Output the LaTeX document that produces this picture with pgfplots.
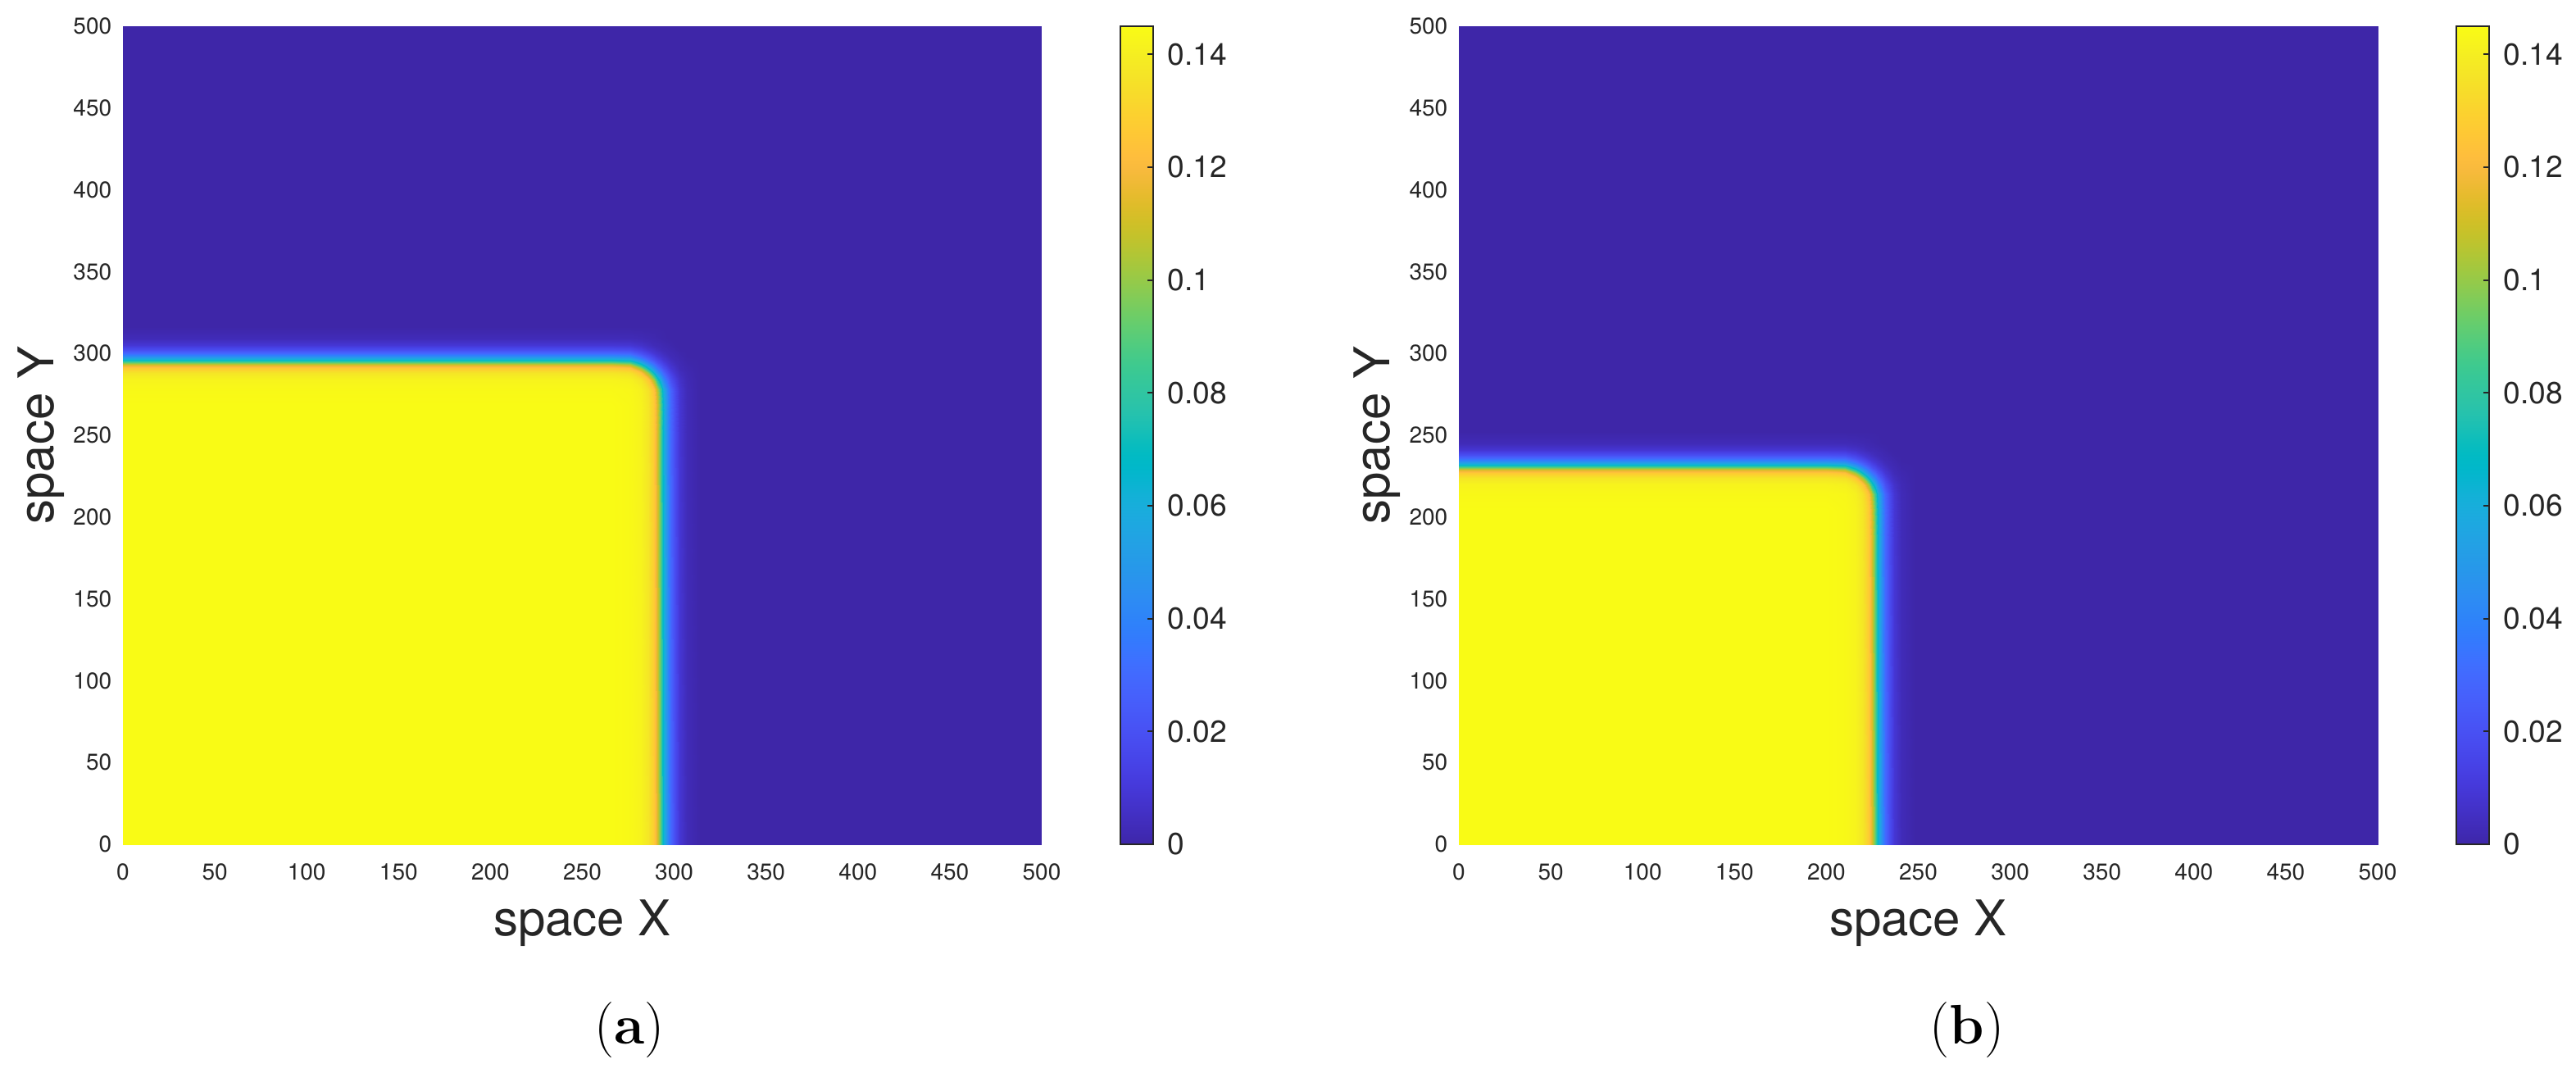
\documentclass[border=0pt]{standalone}
\usepackage{fontspec}
\usepackage{pgfplots}
\pgfplotsset{compat=1.18}
\usepackage{pgfplotstable}
\newfontfamily\hel{TeX Gyre Heros}
\definecolor{mgray}{rgb}{0.15,0.15,0.15}

\pgfplotsset{
  colormap={parula}{
rgb=(0.2422,0.1504,0.6603) rgb=(0.2504,0.1650,0.7076) rgb=(0.2578,0.1818,0.7511) rgb=(0.2647,0.1978,0.7952)
rgb=(0.2706,0.2147,0.8364) rgb=(0.2751,0.2342,0.8710) rgb=(0.2783,0.2559,0.8991) rgb=(0.2803,0.2782,0.9221)
rgb=(0.2813,0.3006,0.9414) rgb=(0.2810,0.3228,0.9579) rgb=(0.2795,0.3447,0.9717) rgb=(0.2760,0.3667,0.9829)
rgb=(0.2699,0.3892,0.9906) rgb=(0.2602,0.4123,0.9952) rgb=(0.2440,0.4358,0.9988) rgb=(0.2206,0.4603,0.9973)
rgb=(0.1963,0.4847,0.9892) rgb=(0.1834,0.5074,0.9798) rgb=(0.1786,0.5289,0.9682) rgb=(0.1764,0.5499,0.9520)
rgb=(0.1687,0.5703,0.9359) rgb=(0.1540,0.5902,0.9218) rgb=(0.1460,0.6091,0.9079) rgb=(0.1380,0.6276,0.8973)
rgb=(0.1248,0.6459,0.8883) rgb=(0.1113,0.6635,0.8763) rgb=(0.0952,0.6798,0.8598) rgb=(0.0689,0.6948,0.8394)
rgb=(0.0297,0.7082,0.8163) rgb=(0.0036,0.7203,0.7917) rgb=(0.0067,0.7312,0.7660) rgb=(0.0433,0.7411,0.7394)
rgb=(0.0964,0.7500,0.7120) rgb=(0.1408,0.7584,0.6842) rgb=(0.1717,0.7670,0.6554) rgb=(0.1938,0.7758,0.6251)
rgb=(0.2161,0.7843,0.5923) rgb=(0.2470,0.7918,0.5567) rgb=(0.2906,0.7973,0.5188) rgb=(0.3406,0.8008,0.4789)
rgb=(0.3909,0.8029,0.4354) rgb=(0.4456,0.8024,0.3909) rgb=(0.5044,0.7993,0.3480) rgb=(0.5616,0.7942,0.3045)
rgb=(0.6174,0.7876,0.2612) rgb=(0.6720,0.7793,0.2227) rgb=(0.7242,0.7698,0.1910) rgb=(0.7738,0.7598,0.1646)
rgb=(0.8203,0.7498,0.1535) rgb=(0.8634,0.7406,0.1596) rgb=(0.9035,0.7330,0.1774) rgb=(0.9393,0.7288,0.2100)
rgb=(0.9728,0.7298,0.2394) rgb=(0.9956,0.7434,0.2371) rgb=(0.9970,0.7659,0.2199) rgb=(0.9952,0.7893,0.2028)
rgb=(0.9892,0.8136,0.1885) rgb=(0.9786,0.8386,0.1766) rgb=(0.9676,0.8639,0.1643) rgb=(0.9610,0.8890,0.1537)
rgb=(0.9597,0.9135,0.1423) rgb=(0.9628,0.9373,0.1265) rgb=(0.9691,0.9606,0.1060) rgb=(0.9769,0.9839,0.0805)
  },
  myaxis/.style={
    scale only axis, width=280.25pt, height=249.5pt,
    anchor=south west,
    colormap name=parula,
    xmin=0, xmax=500, ymin=0, ymax=500,
    xtick={0,50,...,500}, ytick={0,50,...,500},
    axis line style={draw=none},
    major tick length=0pt,
    tick style={draw=none},
    /pgf/number format/assume math mode=true,
    tick label style={font=\hel\fontsize{7}{8}\selectfont, text=mgray},
    xticklabel style={anchor=north, inner sep=0pt, yshift=-5.75pt},
    yticklabel style={anchor=east, inner sep=0pt, xshift=-3.25pt},
    xlabel={space X}, ylabel={space Y},
    label style={font=\hel\fontsize{15}{18}\selectfont, text=mgray},
    xlabel style={at={(axis description cs:0.5,-0.1122)}, anchor=base},
    ylabel style={at={(axis description cs:-0.0758,0.5)}, anchor=base},
    point meta min=0, point meta max=0.145,
    colorbar,
    colorbar style={
      at={(parent axis.north east)}, anchor=north west, xshift=15.5pt,
      width=10pt,
      ytick={0,0.02,0.04,0.06,0.08,0.1,0.12,0.14},
      yticklabels={0,0.02,0.04,0.06,0.08,0.1,0.12,0.14},
      scaled y ticks=false,
      yticklabel pos=right,
      ytick pos=right,
      tick align=inside,
      major tick length=1.8pt,
      tick style={draw=mgray, line width=0.5pt},
      axis line style={draw=mgray, line width=0.5pt},
      yticklabel style={font=\hel\fontsize{9.3}{11}\selectfont, text=mgray, anchor=west, inner sep=0pt, xshift=4.25pt},
    },
  },
}

\pgfplotstableread{
xa ya xb yb z
0 0 0 0 0.145
249 0 183 0 0.145
266 0 200 0 0.145
276 0 210 0 0.144
282 0 216 0 0.142
286 0 220 0 0.137
289 0 223 0 0.127
291 0 225 0 0.112
292.5 0 226.5 0 0.090
294 0 228 0 0.066
296 0 230 0 0.045
298 0 232 0 0.030
300 0 234 0 0.019
303 0 237 0 0.009
307 0 241 0 0.003
314 0 248 0 0
500 0 500 0 0
0 251 0 187 0.145
249 251 183 187 0.145
266 251 200 187 0.145
276 251 210 187 0.144
282 251 216 187 0.142
286 251 220 187 0.137
289 251 223 187 0.127
291 251 225 187 0.112
292.5 251 226.5 187 0.090
294 251 228 187 0.066
296 251 230 187 0.045
298 251 232 187 0.030
300 251 234 187 0.019
303 251 237 187 0.009
307 251 241 187 0.003
314 251 248 187 0
500 251 500 187 0
0 268 0 204 0.145
249 268 183 204 0.145
266 268 200 204 0.145
276 268 210 204 0.144
282 268 216 204 0.142
286 268 220 204 0.137
289 268 223 204 0.127
291 268 225 204 0.112
292.5 268 226.5 204 0.090
294 268 228 204 0.066
296 268 230 204 0.045
298 268 232 204 0.030
300 268 234 204 0.019
303 268 237 204 0.009
307 268 241 204 0.003
314 268 248 204 0
500 268 500 204 0
0 278 0 214 0.144
249 278 183 214 0.144
266 278 200 214 0.144
276 278 210 214 0.1434
282 278 216 214 0.1410
286 278 220 214 0.1351
289 278 223 214 0.1235
291 278 225 214 0.1058
292.5 278 226.5 214 0.0838
294 278 228 214 0.0622
296 278 230 214 0.0425
298 278 232 214 0.0283
300 278 234 214 0.0181
303 278 237 214 0.0086
307 278 241 214 0.0029
314 278 248 214 0
500 278 500 214 0
0 284 0 220 0.142
249 284 183 220 0.142
266 284 200 220 0.142
276 284 210 220 0.1410
282 284 216 220 0.1365
286 284 220 220 0.1255
289 284 223 220 0.1014
291 284 225 220 0.0745
292.5 284 226.5 220 0.0575
294 284 228 220 0.0437
296 284 230 220 0.0300
298 284 232 220 0.0198
300 284 234 220 0.0132
303 284 237 220 0.0066
307 284 241 220 0.0024
314 284 248 220 0
500 284 500 220 0
0 288 0 224 0.137
249 288 183 224 0.137
266 288 200 224 0.137
276 288 210 224 0.1351
282 288 216 224 0.1255
286 288 220 224 0.1003
289 288 223 224 0.0658
291 288 225 224 0.0492
292.5 288 226.5 224 0.0389
294 288 228 224 0.0296
296 288 230 224 0.0202
298 288 232 224 0.0139
300 288 234 224 0.0086
303 288 237 224 0.0045
307 288 241 224 0.0018
314 288 248 224 0
500 288 500 224 0
0 291 0 227 0.127
249 291 183 227 0.127
266 291 200 227 0.127
276 291 210 227 0.1235
282 291 216 227 0.1014
286 291 220 227 0.0658
289 291 223 227 0.0447
291 291 225 227 0.0338
292.5 291 226.5 227 0.0265
294 291 228 227 0.0201
296 291 230 227 0.0143
298 291 232 227 0.0089
300 291 234 227 0.0064
303 291 237 227 0.0028
307 291 241 227 0.0013
314 291 248 227 0
500 291 500 227 0
0 293 0 229 0.112
249 293 183 229 0.112
266 293 200 229 0.112
276 293 210 229 0.1058
282 293 216 229 0.0745
286 293 220 229 0.0492
289 293 223 229 0.0338
291 293 225 229 0.0252
292.5 293 226.5 229 0.0193
294 293 228 229 0.0154
296 293 230 229 0.0103
298 293 232 229 0.0072
300 293 234 229 0.0047
303 293 237 229 0.0024
307 293 241 229 0.0009
314 293 248 229 0
500 293 500 229 0
0 294.5 0 230.5 0.090
249 294.5 183 230.5 0.090
266 294.5 200 230.5 0.090
276 294.5 210 230.5 0.0838
282 294.5 216 230.5 0.0575
286 294.5 220 230.5 0.0389
289 294.5 223 230.5 0.0265
291 294.5 225 230.5 0.0193
292.5 294.5 226.5 230.5 0.0157
294 294.5 228 230.5 0.0121
296 294.5 230 230.5 0.0082
298 294.5 232 230.5 0.0058
300 294.5 234 230.5 0.0035
303 294.5 237 230.5 0.0021
307 294.5 241 230.5 0.0006
314 294.5 248 230.5 0
500 294.5 500 230.5 0
0 296 0 232 0.066
249 296 183 232 0.066
266 296 200 232 0.066
276 296 210 232 0.0622
282 296 216 232 0.0437
286 296 220 232 0.0296
289 296 223 232 0.0201
291 296 225 232 0.0154
292.5 296 226.5 232 0.0121
294 296 228 232 0.0088
296 296 230 232 0.0067
298 296 232 232 0.0044
300 296 234 232 0.0027
303 296 237 232 0.0017
307 296 241 232 0.0003
314 296 248 232 0
500 296 500 232 0
0 298 0 234 0.045
249 298 183 234 0.045
266 298 200 234 0.045
276 298 210 234 0.0425
282 298 216 234 0.0300
286 298 220 234 0.0202
289 298 223 234 0.0143
291 298 225 234 0.0103
292.5 298 226.5 234 0.0082
294 298 228 234 0.0067
296 298 230 234 0.0046
298 298 232 234 0.0028
300 298 234 234 0.0022
303 298 237 234 0.0012
307 298 241 234 0
314 298 248 234 0
500 298 500 234 0
0 300 0 236 0.030
249 300 183 236 0.030
266 300 200 236 0.030
276 300 210 236 0.0283
282 300 216 236 0.0198
286 300 220 236 0.0139
289 300 223 236 0.0089
291 300 225 236 0.0072
292.5 300 226.5 236 0.0058
294 300 228 236 0.0044
296 300 230 236 0.0028
298 300 232 236 0.0022
300 300 234 236 0.0016
303 300 237 236 0.0007
307 300 241 236 0
314 300 248 236 0
500 300 500 236 0
0 302 0 238 0.019
249 302 183 238 0.019
266 302 200 238 0.019
276 302 210 238 0.0181
282 302 216 238 0.0132
286 302 220 238 0.0086
289 302 223 238 0.0064
291 302 225 238 0.0047
292.5 302 226.5 238 0.0035
294 302 228 238 0.0027
296 302 230 238 0.0022
298 302 232 238 0.0016
300 302 234 238 0.0010
303 302 237 238 0.0001
307 302 241 238 0
314 302 248 238 0
500 302 500 238 0
0 305 0 241 0.009
249 305 183 241 0.009
266 305 200 241 0.009
276 305 210 241 0.0086
282 305 216 241 0.0066
286 305 220 241 0.0045
289 305 223 241 0.0028
291 305 225 241 0.0024
292.5 305 226.5 241 0.0021
294 305 228 241 0.0017
296 305 230 241 0.0012
298 305 232 241 0.0007
300 305 234 241 0.0001
303 305 237 241 0
307 305 241 241 0
314 305 248 241 0
500 305 500 241 0
0 309 0 245 0.003
249 309 183 245 0.003
266 309 200 245 0.003
276 309 210 245 0.0029
282 309 216 245 0.0024
286 309 220 245 0.0018
289 309 223 245 0.0013
291 309 225 245 0.0009
292.5 309 226.5 245 0.0006
294 309 228 245 0.0003
296 309 230 245 0
298 309 232 245 0
300 309 234 245 0
303 309 237 245 0
307 309 241 245 0
314 309 248 245 0
500 309 500 245 0
0 316 0 252 0
249 316 183 252 0
266 316 200 252 0
276 316 210 252 0
282 316 216 252 0
286 316 220 252 0
289 316 223 252 0
291 316 225 252 0
292.5 316 226.5 252 0
294 316 228 252 0
296 316 230 252 0
298 316 232 252 0
300 316 234 252 0
303 316 237 252 0
307 316 241 252 0
314 316 248 252 0
500 316 500 252 0
0 500 0 500 0
249 500 183 500 0
266 500 200 500 0
276 500 210 500 0
282 500 216 500 0
286 500 220 500 0
289 500 223 500 0
291 500 225 500 0
292.5 500 226.5 500 0
294 500 228 500 0
296 500 230 500 0
298 500 232 500 0
300 500 234 500 0
303 500 237 500 0
307 500 241 500 0
314 500 248 500 0
500 500 500 500 0
}\fielddata

\begin{document}
\begin{tikzpicture}
\useasboundingbox (0,0) rectangle (785.75pt,327pt);
\begin{axis}[myaxis, at={(37.5pt,69.5pt)}]
\addplot[surf, shader=interp, mesh/cols=17, point meta=\thisrow{z}] table[x=xa, y=ya] {\fielddata};
\end{axis}
\begin{axis}[myaxis, at={(445pt,69.5pt)}]
\addplot[surf, shader=interp, mesh/cols=17, point meta=\thisrow{z}] table[x=xb, y=yb] {\fielddata};
\end{axis}
\node[anchor=base, font=\fontsize{17}{20}\selectfont] at (192pt,8.75pt) {(\textbf{a})};
\node[anchor=base, font=\fontsize{17}{20}\selectfont] at (600pt,8.75pt) {(\textbf{b})};
\end{tikzpicture}
\end{document}
